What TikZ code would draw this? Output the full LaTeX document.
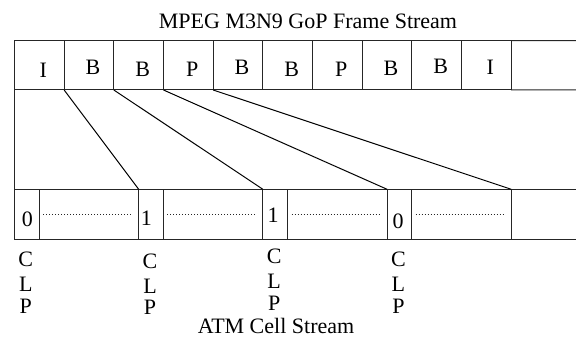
\documentclass[tikz,border=0pt]{standalone}
\usepackage{fontspec}
\setmainfont{Liberation Serif}
\usepackage{tikz}
\usepackage{xcolor}

\begin{document}
\begin{tikzpicture}%
  [x=1pt,y=-1pt,line width=1pt,font=\fontsize{22}{24}\selectfont]
  \tikzstyle{frame node}=[rectangle,draw=black!85,anchor=north west,
    minimum width=49.66pt,minimum height=49.3pt,inner sep=0,outer sep=0]
  \tikzstyle{head node}=[frame node,minimum width=24.6pt,minimum height=50pt]
  \tikzstyle{load node}=[frame node,minimum width=99.6pt,minimum height=50pt]
  \tikzstyle{tag node}=[anchor=base,inner sep=0]
  \tikzstyle{clp node}=[align=center,anchor=north,inner sep=0]
  \useasboundingbox (0,0) rectangle (576,344);
  \node(title)[tag node] at (308,28.3){MPEG M3N9 GoP Frame Stream};
  % frame stream
  \foreach \lbl/\up [count=\i] in
    {I/12.3,B/15.7,B/13.3,P/13.3,B/15.7,B/13,P/13.3,B/14,B/16.7,I/15}{
    \node(f\i)[frame node] at ({14.5+(\i-1)*49.66},40.7){};
    \node(t\i)[tag node] at ([xshift=4pt,yshift=\up pt]f\i.south){\lbl};
  }
  \coordinate(ftop) at (576,40.7);
  \coordinate(fbot) at (576,90);
  \draw[black!85] (f10.north east) -- (ftop) (f10.south east) -- (fbot);
  % cell stream
  \foreach \bit/\dx/\up/\dn [count=\i] in
    {0/0.6/12.3/12.4,1/-4.6/13.8/13.7,1/-2.2/16.6/9,0/-1.4/10.6/12.4}{
    \node(h\i)[head node] at ({14.5+(\i-1)*124.2},189.3){};
    \node(p\i)[load node] at (h\i.north east){};
    \node(b\i)[tag node] at ([xshift=\dx pt,yshift=\up pt]h\i.south){\bit};
    \draw[black!85,line width=0.8pt,dash pattern=on 0.8pt off 2.2pt]
      ([xshift=4pt]p\i.west) -- ([xshift=-6pt]p\i.east);
    \node(clp\i)[clp node] at ([xshift=-1pt,yshift=-\dn pt]h\i.south)
      {C\\[1pt]L\\[-2.3pt]P};
  }
  \coordinate(ctop) at (576,189.3);
  \coordinate(cbot) at (576,239.3);
  \draw[black!85] (p4.north east) -- (ctop) (p4.south east) -- (cbot);
  \draw[black!85] (f1.south west) -- (h1.north west);
  % frame to cell
  \draw (f1.south east) -- (h2.north west);
  \draw (f2.south east) -- (h3.north west);
  \draw (f3.south east) -- (h4.north west);
  \draw (f4.south east) -- (p4.north east);
  \node(atm)[tag node] at (276,334){ATM Cell Stream};
\end{tikzpicture}
\end{document}
